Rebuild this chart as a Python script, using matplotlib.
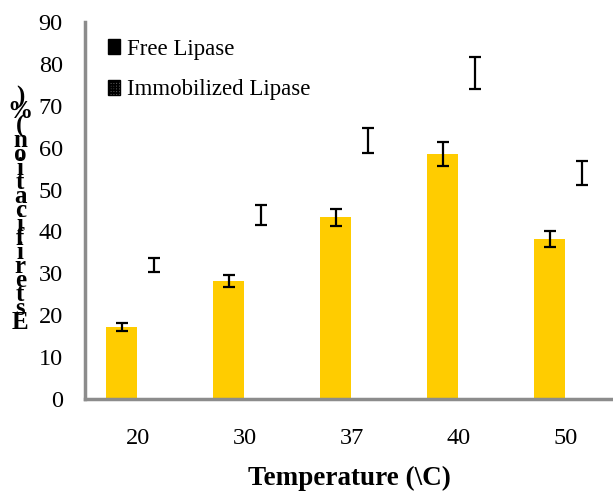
import matplotlib.pyplot as plt
import numpy as np
from matplotlib.patches import Patch

# ── Veri ──────────────────────────────────────────────────────────────────────
temps = ["20", "30", "37", "40", "50"]
free_vals = [17.2, 28.2, 43.4, 58.5, 38.2]
free_err = [0.9, 1.4, 2.0, 2.8, 1.9]
immob_vals = [32.0, 43.9, 61.8, 77.8, 53.9]
immob_err = [1.6, 2.4, 3.0, 3.9, 2.9]

BAR_COLOR = "#FFCC00"
GREY = "#8C8C8C"

plt.rcParams["font.family"] = ["Liberation Serif", "DejaVu Serif"]
plt.rcParams["hatch.linewidth"] = 1.2
plt.rcParams["hatch.color"] = "black"

fig = plt.figure(figsize=(6.13, 4.94), dpi=100)
ax = fig.add_axes([0.1387, 0.1923, 0.8613, 0.7632])

x = np.arange(len(temps))
width = 0.29
err_kw = dict(ecolor="black", elinewidth=1.6, capsize=4.5, capthick=1.6)
ax.bar(x - 0.15, free_vals, width, color=BAR_COLOR, yerr=free_err,
       error_kw=err_kw, zorder=2)
ax.bar(x + 0.15, immob_vals, width, color="white", yerr=immob_err,
       error_kw=err_kw, zorder=2)

ax.set_xlim(-0.493, 4.44)
ax.set_ylim(0, 90)
ax.set_yticks(range(0, 91, 10))
ax.set_xticks(x)
ax.set_xticklabels(temps)
ax.tick_params(axis="both", length=0, labelsize=17.5)
ax.tick_params(axis="y", pad=16)
ax.tick_params(axis="x", pad=21)

for side in ["top", "right"]:
    ax.spines[side].set_visible(False)
for side in ["left", "bottom"]:
    ax.spines[side].set_color(GREY)
    ax.spines[side].set_linewidth(2.5)

# x ekseni etiketi
fig.text(0.57, 0.032, "Temperature (\\C)", ha="center", va="center",
         fontsize=19.5, fontweight="bold")

# y ekseni etiketi (harfler alt alta, ters sırada)
ylab = ")%(noitacifiretsE"
fig.text(0.033, 0.575, "\n".join(ylab), ha="center", va="center",
         fontsize=18, fontweight="bold", linespacing=0.5)

# ── Lejant ─────────────────────────────────────────────────────────────────
handles = [
    Patch(facecolor="black", edgecolor="black"),
    Patch(facecolor="#6a6a6a", edgecolor="black", hatch="++++++"),
]
leg = ax.legend(handles, ["Free Lipase", "Immobilized Lipase"],
                loc="upper left", bbox_to_anchor=(0.005, 1.01), frameon=False,
                fontsize=16.5, handlelength=0.5, handleheight=0.6,
                handletextpad=0.3, labelspacing=0.85)

fig.savefig("out.png", dpi=100)
